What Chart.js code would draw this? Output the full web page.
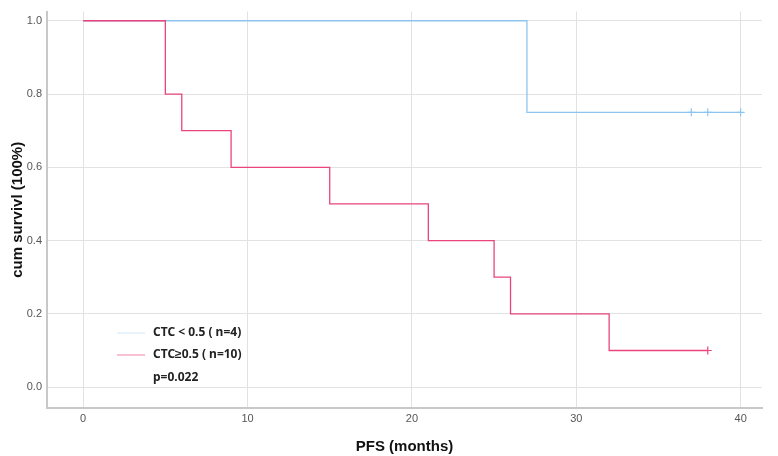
<!DOCTYPE html>
<html lang="en">
<head>
    <meta charset="UTF-8">
    <title>PFS by CTC</title>
    <script src="https://cdn.jsdelivr.net/npm/chart.js@4/dist/chart.umd.min.js"></script>
    <style>
        body { margin: 0; background: #fff; }
        #wrap { width: 778px; height: 456px; }
    </style>
</head>
<body>
<div id="wrap"><canvas id="myChart"></canvas></div>
<script>
    // step points (time in months, cumulative survival)
    var lowTimes = [0, 27, 40];
    var lowSurv = [1.0, 0.75, 0.75];
    var lowCensorTimes = [37, 38, 40];
    var lowCensorSurv = [0.75, 0.75, 0.75];

    var highTimes = [0, 5, 6, 9, 15, 21, 25, 26, 32, 38];
    var highSurv = [1.0, 0.8, 0.7, 0.6, 0.5, 0.4, 0.3, 0.2, 0.1, 0.1];
    var highCensorTimes = [38];
    var highCensorSurv = [0.1];

    var xTicks = [0, 10, 20, 30, 40];
    var yTicks = [0.0, 0.2, 0.4, 0.6, 0.8, 1.0];
    var legendLabels = ["CTC < 0.5 ( n=4)", "CTC\u22650.5 ( n=10)"];
    var pLabel = "p=0.022";

    var blue = "#8ec5f0";
    var red = "#e9457c";

    function pts(xs, ys) {
        return xs.map(function (x, i) { return { x: x, y: ys[i] }; });
    }

    // legend drawn inside the plot like the SPSS output
    var legendPlugin = {
        id: "kmLegend",
        afterDraw: function (chart) {
            var ctx = chart.ctx;
            var colors = ["rgba(142,197,240,0.35)", "rgba(233,69,124,0.55)"];
            ctx.save();
            ctx.font = "bold 12px 'Noto Sans', sans-serif";
            ctx.textBaseline = "middle";
            ctx.fillStyle = "#222";
            var rows = [333, 355];
            for (var i = 0; i < legendLabels.length; i++) {
                ctx.strokeStyle = colors[i];
                ctx.lineWidth = 1.2;
                ctx.beginPath();
                ctx.moveTo(117, rows[i]);
                ctx.lineTo(145, rows[i]);
                ctx.stroke();
                ctx.fillText(legendLabels[i], 153, rows[i]);
            }
            ctx.fillText(pLabel, 153, 378);
            ctx.restore();
        }
    };

    var ctx = document.getElementById('myChart').getContext('2d');
    var chart = new Chart(ctx, {
        type: 'line',
        data: {
            datasets: [
                {
                    label: legendLabels[0],
                    data: pts(lowTimes, lowSurv),
                    borderColor: blue,
                    borderWidth: 1.3,
                    stepped: 'before',
                    pointRadius: 0,
                    fill: false,
                    order: 2
                },
                {
                    label: legendLabels[1],
                    data: pts(highTimes, highSurv),
                    borderColor: red,
                    borderWidth: 1.3,
                    stepped: 'before',
                    pointRadius: 0,
                    fill: false,
                    order: 0
                },
                {
                    label: "censor low",
                    data: pts(lowCensorTimes, lowCensorSurv),
                    showLine: false,
                    pointStyle: 'cross',
                    pointRadius: 4,
                    borderColor: blue,
                    borderWidth: 1.2,
                    order: 1
                },
                {
                    label: "censor high",
                    data: pts(highCensorTimes, highCensorSurv),
                    showLine: false,
                    pointStyle: 'cross',
                    pointRadius: 4,
                    borderColor: red,
                    borderWidth: 1.2,
                    order: 0
                }
            ]
        },
        options: {
            responsive: true,
            maintainAspectRatio: false,
            animation: false,
            layout: { padding: { top: 0, right: 16, left: 0, bottom: 0 } },
            plugins: {
                legend: { display: false },
                tooltip: { enabled: false }
            },
            scales: {
                x: {
                    type: 'linear',
                    min: -2.2,
                    max: 41.3,
                    afterBuildTicks: function (scale) {
                        scale.ticks = xTicks.map(function (v) { return { value: v }; });
                    },
                    afterFit: function (scale) { scale.height = 48; },
                    ticks: {
                        color: "#555",
                        font: { size: 11, family: "'Liberation Sans', Arial, sans-serif" },
                        padding: 4,
                        maxRotation: 0
                    },
                    grid: { color: "#e2e2e2", lineWidth: 1, drawTicks: false },
                    border: { color: "#c8c8c8", width: 2 },
                    title: {
                        display: true,
                        text: "PFS (months)",
                        color: "#111",
                        font: { size: 15, weight: 'bold', family: "'Liberation Sans', Arial, sans-serif" },
                        padding: { top: 8, bottom: 0 }
                    }
                },
                y: {
                    min: -0.057,
                    max: 1.025,
                    afterBuildTicks: function (scale) {
                        scale.ticks = yTicks.map(function (v) { return { value: v }; });
                    },
                    afterFit: function (scale) { scale.width = 47; },
                    ticks: {
                        color: "#555",
                        font: { size: 11, family: "'Liberation Sans', Arial, sans-serif" },
                        padding: 5,
                        callback: function (v) { return v.toFixed(1); }
                    },
                    grid: { color: "#e2e2e2", lineWidth: 1, drawTicks: false },
                    border: { color: "#c8c8c8", width: 2 },
                    title: {
                        display: true,
                        text: "cum survivl (100%)",
                        color: "#111",
                        font: { size: 15, weight: 'bold', family: "'Liberation Sans', Arial, sans-serif" },
                        padding: { top: 9, bottom: 0 }
                    }
                }
            }
        },
        plugins: [legendPlugin]
    });
</script>
</body>
</html>
